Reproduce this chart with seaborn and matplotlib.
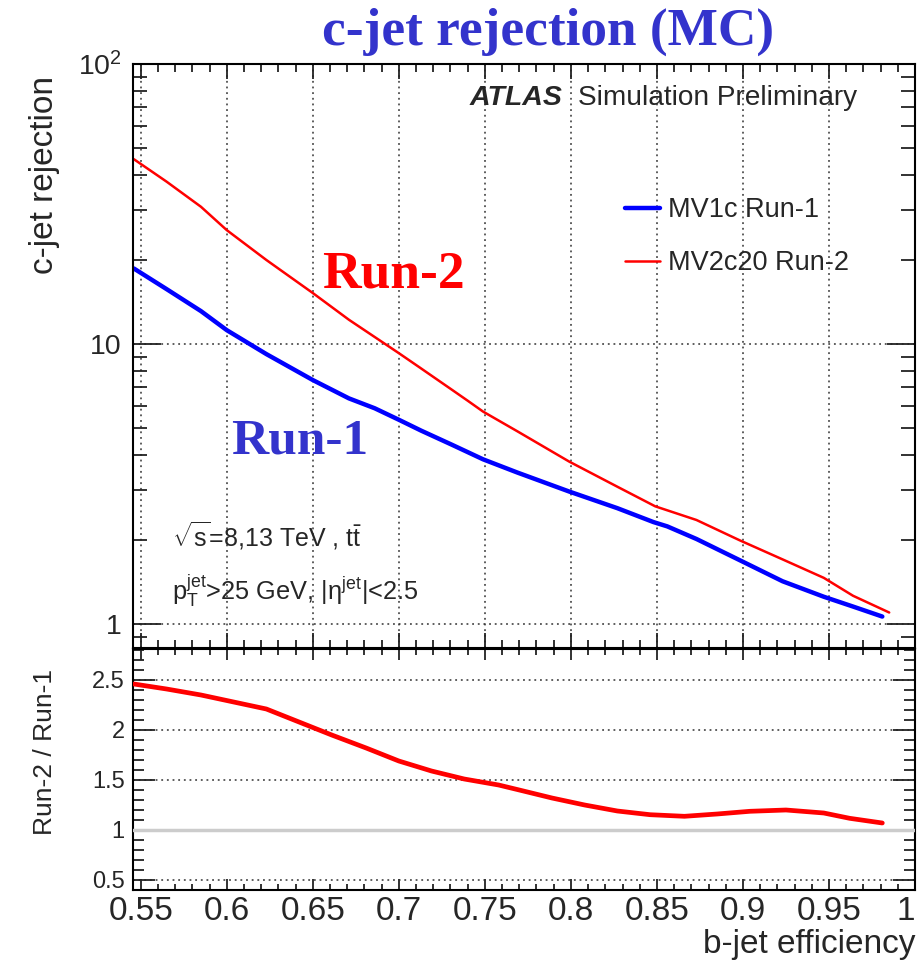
import numpy as np
import pandas as pd
import matplotlib
matplotlib.use('Agg')
import matplotlib.pyplot as plt
import seaborn as sns
from matplotlib.ticker import FixedLocator, MultipleLocator, NullFormatter, LogLocator

# ---------------- data ----------------
eff_run1 = [0.546, 0.565, 0.585, 0.600, 0.623, 0.650, 0.671, 0.686, 0.700, 0.713,
            0.731, 0.749, 0.769, 0.799, 0.827, 0.848, 0.856, 0.873, 0.898, 0.923,
            0.947, 0.964, 0.981]
rej_run1 = [18.6, 15.7, 13.1, 11.2, 9.2, 7.43, 6.39, 5.89, 5.36, 4.90,
            4.36, 3.87, 3.47, 2.97, 2.59, 2.31, 2.23, 2.01, 1.69, 1.42,
            1.25, 1.153, 1.062]

eff_run2 = [0.546, 0.565, 0.585, 0.600, 0.623, 0.650, 0.671, 0.700, 0.712, 0.731,
            0.740, 0.749, 0.769, 0.799, 0.827, 0.849, 0.873, 0.898, 0.923,
            0.947, 0.964, 0.985]
rej_run2 = [45.7, 38.0, 30.9, 25.5, 19.95, 15.2, 12.2, 9.27, 8.25, 6.85,
            6.27, 5.73, 4.87, 3.80, 3.09, 2.63, 2.35, 1.99, 1.70,
            1.46, 1.26, 1.098]

eff_ratio = [0.546, 0.565, 0.585, 0.604, 0.623, 0.642, 0.661, 0.681, 0.700, 0.719,
             0.738, 0.758, 0.770, 0.789, 0.808, 0.827, 0.846, 0.866, 0.885, 0.904,
             0.925, 0.947, 0.962, 0.981]
ratio = [2.46, 2.41, 2.35, 2.28, 2.21, 2.08, 1.95, 1.82, 1.69, 1.59,
         1.51, 1.45, 1.40, 1.32, 1.25, 1.19, 1.153, 1.137, 1.16, 1.187,
         1.20, 1.17, 1.117, 1.07]

x_ticks = [0.55, 0.60, 0.65, 0.70, 0.75, 0.80, 0.85, 0.90, 0.95, 1.00]
x_ticklabels = ['0.55', '0.6', '0.65', '0.7', '0.75', '0.8', '0.85', '0.9', '0.95', '1']
y_ticks_main = [1, 10, 100]
y_ticklabels_main = ['1', '10', r'$10^{2}$']
y_ticks_ratio = [0.5, 1.0, 1.5, 2.0, 2.5]
y_ticklabels_ratio = ['0.5', '1', '1.5', '2', '2.5']

label_run1 = 'MV1c Run-1'
label_run2 = 'MV2c20 Run-2'

# ---------------- style ----------------
sns.set_theme(style='white')
plt.rcParams['font.family'] = ['Liberation Sans', 'DejaVu Sans']
plt.rcParams['mathtext.fontset'] = 'custom'
plt.rcParams['mathtext.rm'] = 'Liberation Sans'
plt.rcParams['mathtext.it'] = 'Liberation Sans:italic'
plt.rcParams['mathtext.bf'] = 'Liberation Sans:bold'

W, H = 921, 960
fig = plt.figure(figsize=(W / 100, H / 100), dpi=100)


def rect(l, t, r, b):
    return [l / W, 1 - b / H, (r - l) / W, (b - t) / H]


def fx(px):
    return px / W


def fy(py):
    return 1 - py / H


ax = fig.add_axes(rect(133, 64, 915, 648))
axr = fig.add_axes(rect(133, 649, 915, 890))

BLUE = '#0000ff'
RED = '#ff0000'
TXTBLUE = '#3333cc'

# main curves
sns.lineplot(x=eff_run1, y=rej_run1, ax=ax, color=BLUE, lw=3.2, sort=False,
             estimator=None, label=label_run1)
sns.lineplot(x=eff_run2, y=rej_run2, ax=ax, color=RED, lw=1.8, sort=False,
             estimator=None, label=label_run2)
ax.set_yscale('log')
ax.set_xlim(0.5455, 1.0)
ax.set_ylim(0.82, 100)

# ratio curve
sns.lineplot(x=eff_ratio, y=ratio, ax=axr, color=RED, lw=3.4, sort=False,
             estimator=None, zorder=5)
axr.set_xlim(0.5455, 1.0)
axr.set_ylim(0.4, 2.81)

for a in (ax, axr):
    for s in a.spines.values():
        s.set_color('black')
        s.set_linewidth(1.5)
    a.xaxis.set_major_locator(FixedLocator(x_ticks))
    a.xaxis.set_minor_locator(MultipleLocator(0.01))
    a.tick_params(which='both', direction='in', top=True, right=True,
                  bottom=True, left=True, color='#222222', width=1.3)
    a.set_xlabel('')
    a.set_ylabel('')

# main axis ticks
ax.set_yticks(y_ticks_main)
ax.set_yticklabels(y_ticklabels_main)
ax.yaxis.set_minor_locator(LogLocator(base=10, subs=np.arange(2, 10)))
ax.yaxis.set_minor_formatter(NullFormatter())
ax.tick_params(axis='x', which='major', length=11, labelbottom=False)
ax.tick_params(axis='x', which='minor', length=5.5)
ax.tick_params(axis='y', which='major', length=20, labelsize=20.5, pad=8)
ax.tick_params(axis='y', which='minor', length=10)
ax.grid(True, which='major', axis='both', ls=(0, (1.2, 2.5)), color='#333333', lw=1.1)

# ratio axis ticks
axr.set_yticks(y_ticks_ratio)
axr.set_yticklabels(y_ticklabels_ratio)
axr.yaxis.set_minor_locator(MultipleLocator(0.1))
axr.set_xticks(x_ticks)
axr.set_xticklabels(x_ticklabels)
axr.tick_params(axis='x', which='major', length=8, labelsize=24, pad=4)
axr.tick_params(axis='x', which='minor', length=4)
axr.tick_params(axis='y', which='major', length=16, labelsize=17, pad=6)
axr.tick_params(axis='y', which='minor', length=8)
axr.yaxis.grid(True, which='major', ls=(0, (1.2, 2.5)), color='#333333', lw=1.1)
axr.xaxis.grid(False)
axr.axhline(1.0, color='#cccccc', lw=2.5, zorder=3)
# keep the last x label ("1") inside the canvas
axr.get_xticklabels()[-1].set_horizontalalignment('right')

# axis titles
fig.text(fx(45), fy(175), 'c-jet rejection', rotation=90, ha='center', va='center',
         fontsize=24)
fig.text(fx(45), fy(752), 'Run-2 / Run-1', rotation=90, ha='center', va='center',
         fontsize=19)
fig.text(fx(915), fy(953), 'b-jet efficiency', ha='right', va='baseline', fontsize=24)

# legend
leg = ax.legend(loc='upper left', bbox_to_anchor=(fx(625), fy(197)),
                bbox_transform=fig.transFigure, frameon=False, fontsize=19.5,
                handlelength=1.3, handletextpad=0.3, labelspacing=1.0,
                borderpad=0, borderaxespad=0)

# ATLAS label
fig.text(fx(470), fy(105), 'ATLAS', fontsize=20.5, fontweight='bold', style='italic',
         ha='left', va='baseline')
fig.text(fx(578), fy(105), 'Simulation Preliminary', fontsize=20.2, ha='left',
         va='baseline')

# info text
fig.text(fx(172), fy(547), r'$\sqrt{\mathrm{s}}$=8,13 TeV , $\mathrm{t}\bar{\mathrm{t}}$',
         fontsize=18, ha='left', va='baseline')
fig.text(fx(172), fy(600), r'p$_{\mathrm{T}}^{\mathrm{jet}}$>25 GeV, |$\mathrm{\eta}^{\mathrm{jet}}$|<2.5',
         fontsize=18.3, ha='left', va='baseline')

# big labels
serif = ['Liberation Serif', 'DejaVu Serif']
fig.text(fx(548), fy(45), 'c-jet rejection (MC)', family=serif, fontweight='bold',
         fontsize=38.3, color=TXTBLUE, ha='center', va='baseline')
fig.text(fx(393), fy(287), 'Run-2', family=serif, fontweight='bold', fontsize=38.5,
         color=RED, ha='center', va='baseline')
fig.text(fx(300), fy(453), 'Run-1', family=serif, fontweight='bold', fontsize=37,
         color=TXTBLUE, ha='center', va='baseline')

fig.savefig('out.png', dpi=100)
